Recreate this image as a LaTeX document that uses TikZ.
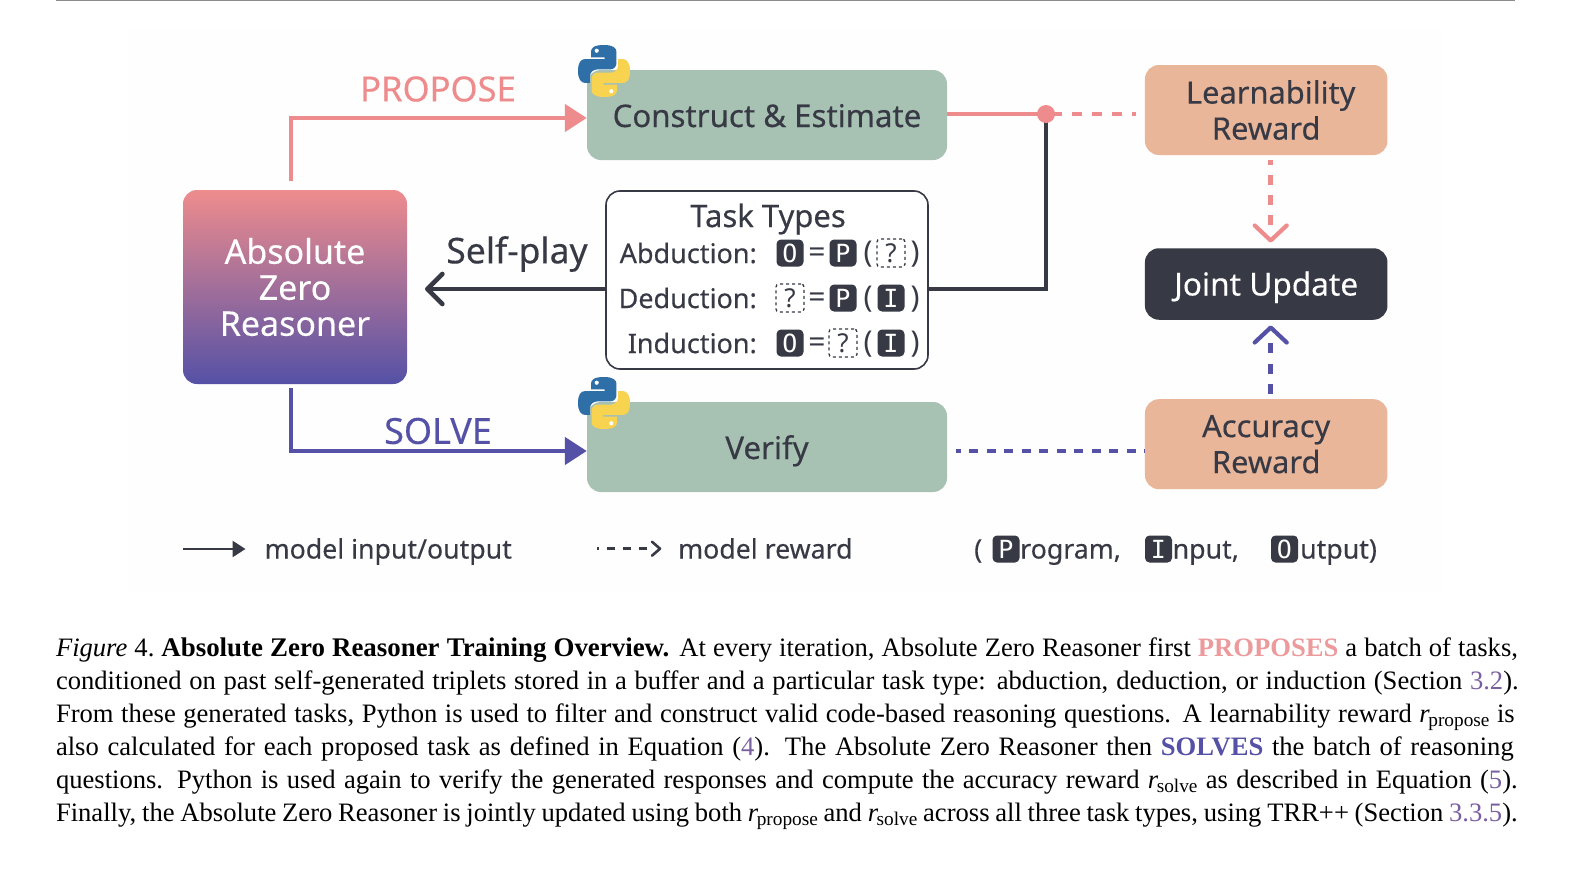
\documentclass[tikz,border=0pt]{standalone}
\usepackage{fontspec}
\setmainfont{Noto Sans}[FakeBold=0.3]
\setmonofont{DejaVu Sans Mono}
\newfontfamily\capfont{Liberation Serif}
\newfontfamily\thinfont{Noto Sans}
\usetikzlibrary{arrows.meta,calc}
\definecolor{pinkc}{HTML}{EE8C8D}
\definecolor{purpc}{HTML}{5551A6}
\definecolor{darkc}{HTML}{373944}
\definecolor{greenc}{HTML}{A7C1B3}
\definecolor{peachc}{HTML}{E9B69A}
\definecolor{linkc}{HTML}{7A5FA0}
\definecolor{pyblue}{HTML}{2F6FA8}
\definecolor{pyyellow}{HTML}{F7D34F}
\definecolor{capred}{HTML}{EC9A9C}
\newcommand{\fs}[1]{\fontsize{#1}{#1}\selectfont}
\newcommand{\fsl}[2]{\fontsize{#1}{#2}\selectfont}
\newcommand{\rsub}[1]{\textit{r}\kern-1.5pt\raisebox{-4pt}{\fs{19.3}#1}}
\newcommand{\lk}[1]{\textcolor{linkc}{#1}}
\tikzset{
  x=1pt,y=-1pt,
  box/.style={rounded corners=14,minimum width=360,minimum height=90,inner sep=0,fill=greenc,text=darkc,font=\fs{31.2},align=center,text height=24,text depth=0},
  reward/.style={rounded corners=14,minimum width=242.5,minimum height=90,inner sep=0,fill=peachc,text=darkc,font=\fsl{30.8}{36},align=center},
  tasklbl/.style={inner sep=0,text=darkc,font=\fs{27},anchor=east},
  legend/.style={inner sep=0,text=darkc,font=\fs{26.7},anchor=base west},
  chip/.style={fill=darkc,rounded corners=4.5,minimum size=27,inner sep=0,text=white,font=\ttfamily\fs{25}},
  qbox/.style={draw=darkc,line width=1.3,dash pattern=on 3 off 3,rounded corners=3,minimum size=28,inner sep=0,text=darkc,font=\thinfont\fs{26}},
  sym/.style={inner sep=0,text=darkc,font=\thinfont\fs{30}},
  capline/.style={inner sep=0,anchor=base west,font=\capfont\fs{26.6}},
  pinkline/.style={draw=pinkc,line width=4.7},
  purpline/.style={draw=purpc,line width=4.7},
  darkline/.style={draw=darkc,line width=4.7},
  chevron/.style={line width=4.2,line cap=round,line join=round},
  fulltip/.style={-{Triangle[length=22,width=27]}},
  barbtip/.style={-{Straight Barb[length=15,width=30,round]}},
  pylogo/.pic={
    \begin{scope}[x=52pt,y=-52pt]
    \fill[pyblue] (0.50,0) .. controls (0.28,0) and (0.25,0.07) .. (0.25,0.14) -- (0.25,0.24) -- (0.51,0.24) -- (0.51,0.27) -- (0.14,0.27) .. controls (0.05,0.27) and (0,0.34) .. (0,0.50) .. controls (0,0.66) and (0.06,0.73) .. (0.14,0.73) -- (0.23,0.73) -- (0.23,0.60) .. controls (0.23,0.52) and (0.30,0.47) .. (0.37,0.47) -- (0.62,0.47) .. controls (0.69,0.47) and (0.74,0.41) .. (0.74,0.35) -- (0.74,0.13) .. controls (0.74,0.06) and (0.68,0) .. (0.50,0) -- cycle;
    \fill[pyyellow] (0.50,1) .. controls (0.72,1) and (0.75,0.93) .. (0.75,0.86) -- (0.75,0.76) -- (0.49,0.76) -- (0.49,0.73) -- (0.86,0.73) .. controls (0.95,0.73) and (1,0.66) .. (1,0.50) .. controls (1,0.34) and (0.94,0.27) .. (0.86,0.27) -- (0.77,0.27) -- (0.77,0.40) .. controls (0.77,0.48) and (0.70,0.53) .. (0.63,0.53) -- (0.38,0.53) .. controls (0.31,0.53) and (0.26,0.59) .. (0.26,0.65) -- (0.26,0.87) .. controls (0.26,0.94) and (0.32,1) .. (0.50,1) -- cycle;
    \fill[white] (0.36,0.11) circle[radius=0.04];
    \fill[white] (0.64,0.89) circle[radius=0.04];
    \end{scope}
  }
}
\begin{document}
\begin{tikzpicture}
\useasboundingbox (0,0) rectangle (1577,878);
\fill[white] (0,0) rectangle (1577,878);
\fill[black!0.5] (128,30) rectangle (1442,592);
\draw[black!45,line width=1] (56,0.5) -- (1515,0.5);

% main boxes
\node[rounded corners=14,minimum width=224,minimum height=194,inner sep=0,top color=pinkc,bottom color=purpc,text=white,font=\fsl{34}{36},align=center] (azr) at (295,287) {Absolute\\Zero\\Reasoner};
\node[box] (construct) at (767,115) {Construct \& Estimate};
\node[box] (verify) at (767,447) {Verify};
\node[rounded corners=14,draw=darkc,fill=white,line width=1.6,minimum width=322,minimum height=178,inner sep=0] (task) at (767,280) {};
\node[reward] (learn) at (1266.2,110) {\hspace*{9pt}Learnability\\Reward};
\node[rounded corners=14,minimum width=242.5,minimum height=71.5,inner sep=0,fill=darkc,text=white,font=\fs{31.6},text height=23,text depth=0] (joint) at (1266.2,284) {Joint Update};
\node[reward] (acc) at (1266.2,444.2) {Accuracy\\Reward};

\pic at (578,45) {pylogo};
\pic at (578,377) {pylogo};

% labels
\node[inner sep=0,text=pinkc,font=\fs{34.6}] (lprop) at (438,89) {PROPOSE};
\node[inner sep=0,text=purpc,font=\fs{36}] (lsolve) at (438,431) {SOLVE};
\node[inner sep=0,text=darkc,font=\fs{35.5}] (lself) at (517,254) {Self-play};

% connectors
\coordinate (pstart) at (291,181);
\coordinate (pturn) at (291,118);
\coordinate (sstart) at (291,388);
\coordinate (sturn) at (291,451);
\coordinate (dot) at (1046,114);
\coordinate (selfend) at (425,289);
\coordinate (tout) at (1046,289);
\coordinate (stubend) at (1062,114);
\coordinate (dashstart) at (1072,114);
\coordinate (pinkend) at (1136,114);
\draw[pinkline,fulltip] (pstart) -- (pturn) -- (construct.west |- pturn);
\draw[purpline,fulltip] (sstart) -- (sturn) -- (verify.west |- sturn);
\draw[darkline,barbtip] (task.west |- selfend) -- (selfend);
\draw[darkline] (task.east |- tout) -- (tout) -- (dot);
\draw[pinkline] (construct.east |- dot) -- (stubend);
\fill[pinkc] (dot) circle[radius=9];
\draw[pinkline,dash pattern=on 10 off 10] (dashstart) -- (pinkend);
\coordinate (verdash) at (956,451);
\draw[purpline,dash pattern=on 9 off 8.5,dash phase=4.5] (verdash) -- (acc.west |- verdash);
% learnability to joint
\coordinate (lstart) at (1270.7,160);
\coordinate (lmid) at (1270.7,225);
\coordinate (ltip) at (1270.7,240.5);
\draw[pinkline,dash pattern=on 10 off 10,dash phase=5] (lstart) -- (lmid);
\draw[chevron,draw=pinkc] ($(ltip)+(-16,-15)$) -- (ltip) -- ($(ltip)+(16,-15)$);
% accuracy to joint
\coordinate (astart) at (1270.7,394);
\coordinate (amid) at (1270.7,343);
\coordinate (atip) at (1270.7,327.5);
\draw[purpline,dash pattern=on 10 off 10.5] (astart) -- (amid);
\draw[chevron,draw=purpc] ($(atip)+(-16,15)$) -- (atip) -- ($(atip)+(16,15)$);

% task types
\node[inner sep=0,text=darkc,font=\fs{31}] (ttitle) at (768,219) {Task Types};
\node[tasklbl] (labd) at (757,253) {Abduction:};
\node[tasklbl] (lded) at (757,298) {Deduction:};
\node[tasklbl] (lind) at (757,343) {Induction:};

\node[chip] (a1) at (790,253) {O};
\node[sym] (a2) at (817,255) {=};
\node[chip] (a3) at (843,253) {P};
\node[sym] (a4) at (868,254) {(};
\node[qbox] (a5) at (891,253) {?};
\node[sym] (a6) at (915,254) {)};

\node[qbox] (b1) at (790,298) {?};
\node[sym] (b2) at (817,300) {=};
\node[chip] (b3) at (843,298) {P};
\node[sym] (b4) at (868,299) {(};
\node[chip] (b5) at (891,298) {I};
\node[sym] (b6) at (915,299) {)};

\node[chip] (c1) at (790,343) {O};
\node[sym] (c2) at (817,345) {=};
\node[qbox] (c3) at (843,343) {?};
\node[sym] (c4) at (868,344) {(};
\node[chip] (c5) at (891,343) {I};
\node[sym] (c6) at (915,344) {)};

% legend
\coordinate (l1a) at (183,549);
\coordinate (l1b) at (245.5,549);
\draw[draw=darkc,line width=2.7,-{Triangle[length=13,width=16]}] (l1a) -- (l1b);
\node[legend] (lg1) at (264.5,558.5) {model input/output};
\coordinate (l2a) at (597,548.7);
\coordinate (l2m) at (650,548.7);
\coordinate (l2b) at (660,548.7);
\draw[draw=darkc,line width=2.7,dash pattern=on 8 off 8,dash phase=6] (l2a) -- (l2m);
\draw[draw=darkc,line width=2.6,line cap=round,line join=round] ($(l2b)+(-8,-7)$) -- (l2b) -- ($(l2b)+(-8,7)$);
\node[legend] (lg2) at (678,558.5) {model reward};
\node[legend] (lg3) at (974,558.5) {(};
\node[chip] (lgp) at (1006,549) {P};
\node[legend] (lg4) at (1020,558.5) {rogram,};
\node[chip] (lgi) at (1158.5,549) {I};
\node[legend] (lg5) at (1172.5,558.5) {nput,};
\node[chip] (lgo) at (1284.5,549) {O};
\node[legend] (lg6) at (1300,558.5) {utput)};

% caption
\node[capline] (cap1) at (55.8,656) {\makebox[1462pt][s]{\textit{Figure} 4.\kern7pt{\fs{26.9}\textbf{Absolute Zero Reasoner Training Overview.}} At every iteration, Absolute Zero Reasoner first \textcolor{capred}{\textbf{PROPOSES}} a batch of tasks,}};
\node[capline] (cap2) at (55.8,689) {\makebox[1462.8pt][s]{conditioned on past self-generated triplets stored in a buffer and a particular task type: abduction, deduction, or induction (Section \lk{3.2}).}};
\node[capline] (cap3) at (55.8,722) {\makebox[1458.8pt][s]{From these generated tasks, Python is used to filter and construct valid code-based reasoning questions. A learnability reward \rsub{propose} is}};
\node[capline] (cap4) at (55.8,755) {\makebox[1457.8pt][s]{also calculated for each proposed task as defined in Equation (\lk{4}). The Absolute Zero Reasoner then \textcolor{purpc}{\textbf{SOLVES}} the batch of reasoning}};
\node[capline] (cap5) at (55.8,788) {\makebox[1461.8pt][s]{questions. Python is used again to verify the generated responses and compute the accuracy reward \rsub{solve} as described in Equation (\lk{5}).}};
\node[capline] (cap6) at (55.8,821) {\makebox[1461.8pt][s]{Finally, the Absolute Zero Reasoner is jointly updated using both \rsub{propose} and \rsub{solve} across all three task types, using TRR++ (Section \lk{3.3.5}).}};
\end{tikzpicture}
\end{document}
